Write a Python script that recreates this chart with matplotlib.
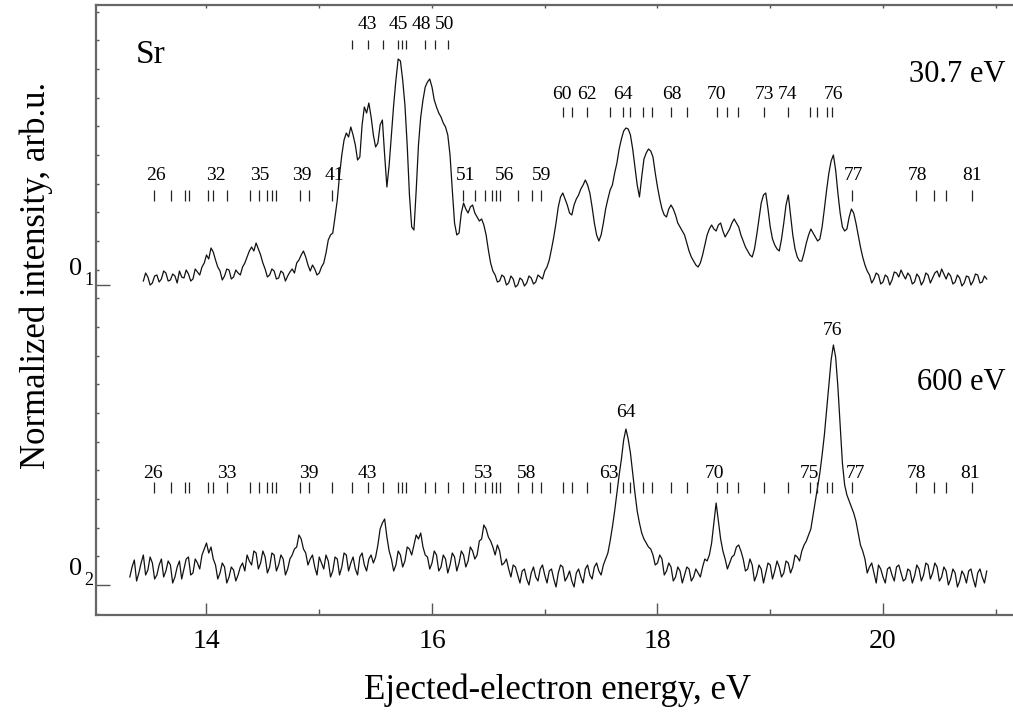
import numpy as np
import matplotlib
matplotlib.use("Agg")
import matplotlib.pyplot as plt
from matplotlib.ticker import FixedLocator, NullFormatter

plt.rcParams['font.family'] = ['Liberation Serif', 'DejaVu Serif']

# ---------------- data ----------------
# upper spectrum (30.7 eV), intensity above its own baseline, 0.02 eV sampling
upper_start = 13.44
upper_step = 0.02
upper_vals = [4, 12, 8, 0, 2, 9, 10, 3, 6, 14, 12, 4, 5, 11, 9, 2, 14, 8, 7, 15, 11, 4, 6, 16, 13, 10,
              18, 22, 30, 26, 37, 33, 25, 18, 14, 5, 9, 16, 15, 6, 8, 15, 12, 10, 18, 22, 28, 34, 38, 34,
              42, 36, 30, 22, 16, 8, 10, 16, 14, 6, 7, 14, 12, 4, 9, 13, 16, 12, 22, 25, 30, 34, 28, 20,
              14, 20, 16, 10, 12, 18, 22, 32, 45, 50, 52, 68, 85, 110, 130, 145, 152, 148, 158, 150, 140,
              125, 128, 160, 178, 172, 182, 168, 150, 138, 142, 160, 165, 130, 98, 120, 150, 180, 205, 226,
              224, 205, 180, 140, 90, 58, 55, 95, 140, 168, 185, 198, 203, 206, 198, 185, 178, 172, 168,
              162, 158, 150, 130, 95, 62, 50, 52, 72, 82, 76, 72, 78, 80, 72, 68, 64, 66, 60, 50, 35, 22,
              14, 10, 3, 4, 10, 8, 0, 2, 9, 6, -2, 0, 7, 5, -1, 2, 9, 7, 1, 3, 10, 8, 6, 14, 18, 25, 36,
              48, 62, 78, 88, 92, 86, 80, 72, 70, 80, 86, 90, 96, 100, 105, 100, 92, 78, 62, 50, 44, 50,
              62, 76, 86, 95, 100, 112, 122, 136, 146, 154, 157, 156, 150, 136, 118, 100, 88, 108, 126,
              132, 136, 134, 128, 112, 98, 86, 76, 70, 68, 76, 80, 76, 70, 62, 58, 54, 50, 42, 34, 28, 24,
              20, 18, 22, 30, 40, 50, 56, 60, 56, 54, 60, 62, 54, 48, 52, 56, 62, 66, 62, 58, 50, 44, 38,
              34, 30, 28, 36, 50, 66, 82, 90, 92, 76, 58, 46, 40, 36, 34, 46, 62, 80, 90, 70, 50, 36, 28,
              24, 24, 32, 42, 50, 56, 52, 48, 44, 46, 58, 76, 95, 112, 124, 130, 115, 92, 72, 58, 54, 56,
              68, 76, 72, 62, 50, 38, 28, 20, 14, 10, 2, 6, 12, 10, 1, 3, 10, 8, 0, 5, 13, 12, 8, 15, 10,
              6, 12, 9, 1, 3, 11, 8, 0, 4, 12, 10, 2, 7, 12, 14, 8, 16, 11, 6, 12, 9, 1, 3, 10, 7, -1, 2,
              9, 8, 0, 4, 11, 10, 2, 3, 9, 6]

# lower spectrum (600 eV)
lower_start = 13.32
lower_step = 0.02
lower_vals = [8, 18, 25, 4, 12, 22, 30, 10, 15, 28, 22, 6, 10, 20, 26, 8, 14, 24, 20, 2, 8, 18, 24, 6,
              16, 26, 28, 10, 12, 26, 22, 16, 30, 36, 42, 32, 38, 26, 20, 6, 12, 22, 18, 2, 8, 18, 15, 4,
              10, 18, 22, 14, 30, 24, 20, 34, 32, 16, 22, 34, 28, 12, 18, 32, 30, 14, 20, 30, 26, 10, 16,
              26, 30, 36, 38, 50, 46, 36, 32, 20, 26, 30, 18, 10, 28, 22, 16, 30, 24, 8, 14, 28, 26, 10,
              18, 32, 30, 14, 22, 28, 16, 10, 28, 32, 20, 14, 26, 30, 22, 28, 40, 56, 62, 66, 48, 34, 26,
              14, 20, 34, 30, 18, 24, 38, 36, 30, 40, 50, 46, 52, 38, 30, 28, 16, 22, 34, 30, 14, 18, 30,
              26, 12, 20, 32, 28, 14, 22, 34, 30, 18, 24, 38, 34, 26, 30, 44, 46, 60, 56, 48, 44, 38, 30,
              40, 34, 20, 22, 26, 16, 8, 20, 18, 10, 2, 14, 16, 6, 0, 12, 18, 8, 4, 16, 20, 10, 2, 14, 16,
              6, -2, 12, 20, 18, 4, 8, 14, 4, -2, 12, 16, 8, 2, 16, 20, 10, 6, 18, 22, 14, 10, 20, 26, 32,
              44, 58, 74, 92, 110, 126, 145, 156, 146, 132, 112, 92, 74, 62, 52, 46, 42, 38, 36, 30, 20,
              22, 30, 26, 10, 14, 22, 18, 4, 8, 18, 14, 2, 10, 18, 16, 4, 8, 16, 12, 8, 18, 26, 24, 30, 42,
              62, 82, 64, 46, 34, 26, 16, 22, 28, 30, 38, 40, 34, 26, 14, 16, 26, 20, 4, 10, 20, 16, 2, 12,
              22, 20, 6, 14, 24, 18, 8, 12, 24, 22, 12, 18, 30, 28, 24, 34, 40, 44, 50, 56, 70, 84, 98,
              112, 130, 150, 175, 200, 225, 240, 228, 198, 160, 122, 100, 90, 84, 78, 72, 64, 52, 40, 34,
              26, 12, 18, 22, 12, 2, 20, 16, 8, 2, 16, 18, 10, 4, 18, 20, 12, 4, 6, 16, 14, 2, 9, 20, 16,
              4, 10, 22, 20, 6, 12, 22, 18, 4, 8, 18, 14, 0, 6, 16, 12, -2, 4, 14, 10, 2, 14, 16, 6, -2,
              12, 16, 8, 2, 14]

upper_offset = 300

# level markers (eV)
row_a_levels = [15.293, 15.435, 15.568, 15.696, 15.731, 15.769, 15.937, 16.027, 16.139]
row_b_levels = [17.159, 17.239, 17.372, 17.579, 17.691, 17.756, 17.869, 17.949, 18.120, 18.259,
                18.525, 18.614, 18.717, 18.945, 19.155, 19.353, 19.412, 19.506, 19.545]
row_c_levels = [13.534, 13.685, 13.809, 13.847, 14.016, 14.055, 14.179, 14.386, 14.468, 14.534,
                14.578, 14.616, 14.829, 14.909, 15.116, 16.278, 16.382, 16.470, 16.530, 16.568,
                16.603, 16.765, 16.884, 16.967, 19.728, 20.293, 20.452, 20.559, 20.792]
lower_levels = sorted(row_a_levels + row_b_levels + row_c_levels)

row_a_labels = [("43", 15.43), ("45", 15.70), ("48", 15.91), ("50", 16.11)]
row_b_labels = [("60", 17.153), ("62", 17.375), ("64", 17.694), ("68", 18.126), ("70", 18.525),
                ("73", 18.951), ("74", 19.157), ("76", 19.565)]
row_c_labels = [("26", 13.549), ("32", 14.084), ("35", 14.472), ("39", 14.847), ("41", 15.131),
                ("51", 16.299), ("56", 16.647), ("59", 16.973), ("77", 19.740), ("78", 20.310),
                ("81", 20.792)]
lower_labels = [("26", 13.528), ("33", 14.179), ("39", 14.906), ("43", 15.430), ("53", 16.461),
                ("58", 16.840), ("63", 17.567), ("70", 18.510), ("75", 19.344), ("77", 19.758),
                ("78", 20.293), ("81", 20.774)]
peak_labels = [("64", 17.72, 168), ("76", 19.548, 250)]

x_major = [14, 16, 18, 20]
x_minor = [15, 17, 19, 21]

# ---------------- figure ----------------
fig = plt.figure(figsize=(10.13, 7.15), dpi=100)
ax = fig.add_axes([96 / 1013, 100 / 715, (1018 - 96) / 1013, 610 / 715])

ue = upper_start + upper_step * np.arange(len(upper_vals))
le = lower_start + lower_step * np.arange(len(lower_vals))
ax.plot(ue, np.array(upper_vals) + upper_offset, color='#111111', lw=0.9)
ax.plot(le, np.array(lower_vals), color='#111111', lw=0.9)

bar_kw = dict(color='#222222', lw=0.9)
ax.vlines(row_a_levels, 536, 545, **bar_kw)
ax.vlines(row_b_levels, 468, 478, **bar_kw)
ax.vlines(row_c_levels, 384, 395, **bar_kw)
ax.vlines(lower_levels, 92, 103, **bar_kw)

lab_kw = dict(ha='center', va='baseline', fontsize=14)
for t, e in row_a_labels:
    ax.text(e, 556, t, **lab_kw)
for t, e in row_b_labels:
    ax.text(e, 486, t, **lab_kw)
for t, e in row_c_labels:
    ax.text(e, 405, t, **lab_kw)
for t, e in lower_labels:
    ax.text(e, 107, t, **lab_kw)
for t, e, y in peak_labels:
    ax.text(e, y, t, **lab_kw)

ax.text(13.37, 522, "Sr", fontsize=24, va='baseline', ha='left')
ax.text(21.09, 503, "30.7 eV", fontsize=22, va='baseline', ha='right')
ax.text(21.09, 195, "600 eV", fontsize=22, va='baseline', ha='right')

ax.set_xlim(13.02, 13.02 + (1018 - 96) / 112.75)
ax.set_ylim(-30, 580)

for s in ['left', 'bottom', 'top']:
    ax.spines[s].set_color('#666666')
    ax.spines[s].set_linewidth(1.6)
ax.spines['right'].set_visible(False)

ax.set_xticks(x_major)
ax.set_xticks(x_minor, minor=True)
ax.tick_params(axis='x', which='major', direction='in', length=9, width=1.0, color='#555555',
               labelsize=20, pad=10)
ax.tick_params(axis='x', which='minor', direction='in', length=4.5, width=1.0, color='#555555')

ax.set_yticks([0, upper_offset])
ax.yaxis.set_major_formatter(NullFormatter())
ax.yaxis.set_minor_locator(FixedLocator([28.67 * k for k in range(-1, 21)]))
ax.tick_params(axis='y', which='major', direction='in', length=10, width=1.0, color='#555555')
ax.tick_params(axis='y', which='minor', direction='in', length=2, width=1.0, color='#555555')

top = ax.secondary_xaxis('top')
top.set_xticks(x_major + x_minor)
top.xaxis.set_major_formatter(NullFormatter())
top.tick_params(direction='in', length=2.5, width=1.0, color='#555555')
top.spines['top'].set_visible(False)

tr = ax.get_yaxis_transform()
for base, sub in [(upper_offset, "1"), (0, "2")]:
    ax.text(-14 / 922, base + 10, "0", transform=tr, fontsize=19, ha='right', va='baseline')
    ax.text(-12 / 922, base, sub, transform=tr, fontsize=13, ha='left', va='baseline')

ax.set_xlabel("Ejected-electron energy, eV", fontsize=25, labelpad=14)
ax.set_ylabel("Normalized intensity, arb.u.", fontsize=25)
ax.yaxis.set_label_coords(-0.047, 0.557)

fig.savefig("out.png", dpi=100)
